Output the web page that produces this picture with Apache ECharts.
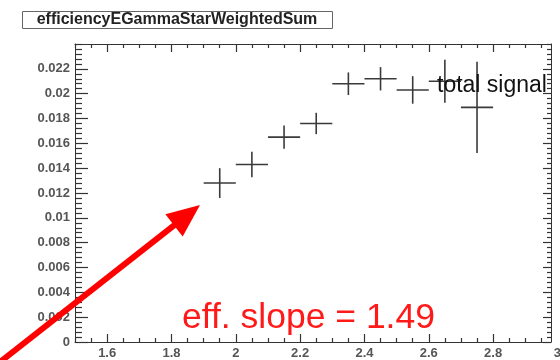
<!DOCTYPE html>
<html>
<head>
<meta charset="utf-8">
<script src="https://cdn.jsdelivr.net/npm/echarts@6/dist/echarts.min.js"></script>
<style>
  html, body { margin: 0; padding: 0; background: #fff; }
  #chart { width: 560px; height: 360px; }
</style>
</head>
<body>
<div id="chart"></div>
<script>
// Efficiency per bin (bin centres, values, symmetric errors)
const binCentres = [1.95, 2.05, 2.15, 2.25, 2.35, 2.45, 2.55, 2.65, 2.75];
const efficiency = [0.0128, 0.0143, 0.0165, 0.0176, 0.0208, 0.0212, 0.0203, 0.0210, 0.0189];
const effError   = [0.0012, 0.00103, 0.00094, 0.00086, 0.00091, 0.00094, 0.00111, 0.00174, 0.00368];
const binHalfWidth = 0.05;

// Axis ticks and labels
const xTickLabels = [1.6, 1.8, 2, 2.2, 2.4, 2.6, 2.8];
const yTickLabels = [0, 0.002, 0.004, 0.006, 0.008, 0.01, 0.012, 0.014, 0.016, 0.018, 0.02, 0.022];
const xRange = [1.5, 2.98];
const yRange = [0, 0.024];
const xEdgeLabel = 3;

const histTitle = 'efficiencyEGammaStarWeightedSum';
const legendText = 'total signal';
const noteText = 'eff. slope = 1.49';

function fmt(v) { return String(+(+v).toFixed(5)); }
function minorValues(lo, hi, step, majors) {
  const out = [];
  const n = Math.round((hi - lo) / step);
  for (let i = 0; i <= n; i++) {
    const v = +(lo + i * step).toFixed(6);
    if (v > hi + 1e-9) break;
    if (!majors.some(m => Math.abs(m - v) < 1e-9)) out.push(v);
  }
  return out;
}
const xMinor = minorValues(1.5, 2.98, 0.05, xTickLabels);
const yMinor = minorValues(0, 0.024, 0.0004, yTickLabels);

const seriesData = binCentres.map((x, i) => [x, efficiency[i], effError[i], binHalfWidth]);

const axisColor = '#333';
const labelStyle = { color: '#555', fontSize: 13, fontWeight: 'bold', fontFamily: 'Liberation Sans, Arial, sans-serif' };

function xAx(position, tickLen, ticks, withLabels, withLine) {
  return {
    type: 'value', position: position, min: xRange[0], max: xRange[1],
    axisLine: { show: withLine, onZero: false, lineStyle: { color: axisColor, width: 1 } },
    axisTick: { show: true, inside: true, length: tickLen, customValues: ticks, lineStyle: { color: axisColor, width: 1.2 } },
    axisLabel: withLabels ? Object.assign({ show: true, margin: 5, customValues: ticks, formatter: fmt }, labelStyle) : { show: false },
    splitLine: { show: false }
  };
}
function yAx(position, tickLen, ticks, withLabels, withLine) {
  return {
    type: 'value', position: position, min: yRange[0], max: yRange[1],
    axisLine: { show: withLine, onZero: false, lineStyle: { color: axisColor, width: 1 } },
    axisTick: { show: true, inside: true, length: tickLen, customValues: ticks, lineStyle: { color: axisColor, width: 1.2 } },
    axisLabel: withLabels ? Object.assign({ show: true, margin: 5, customValues: ticks, formatter: fmt }, labelStyle) : { show: false },
    splitLine: { show: false }
  };
}

const chart = echarts.init(document.getElementById('chart'), null, { renderer: 'canvas' });

const option = {
  animation: false,
  backgroundColor: '#fff',
  grid: { left: 75, top: 44, width: 476, height: 299, containLabel: false },
  xAxis: [
    xAx('bottom', 8, xTickLabels, true, true),
    xAx('bottom', 4, xMinor, false, false),
    xAx('top', 8, xTickLabels, false, true),
    xAx('top', 4, xMinor, false, false)
  ],
  yAxis: [
    yAx('left', 13, yTickLabels, true, true),
    yAx('left', 7, yMinor, false, false),
    yAx('right', 8, yTickLabels, false, true),
    yAx('right', 4, yMinor, false, false)
  ],
  series: [{
    type: 'custom',
    xAxisIndex: 0, yAxisIndex: 0,
    clip: false,
    data: seriesData,
    renderItem: function (params, api) {
      const x = api.value(0), y = api.value(1), e = api.value(2), hw = api.value(3);
      const pl = api.coord([x - hw, y]), pr = api.coord([x + hw, y]);
      const pt = api.coord([x, y + e]), pb = api.coord([x, y - e]);
      const st = { stroke: '#3a3a3a', lineWidth: 1.6 };
      return {
        type: 'group',
        children: [
          { type: 'line', shape: { x1: pl[0], y1: pl[1], x2: pr[0], y2: pr[1] }, style: st },
          { type: 'line', shape: { x1: pt[0], y1: pt[1], x2: pb[0], y2: pb[1] }, style: st }
        ]
      };
    }
  }]
};
chart.setOption(option);

// Extra label at the right end of the x axis, plus title box, legend text and annotation
const edgeX = chart.convertToPixel({ xAxisIndex: 0 }, xEdgeLabel);
const axisBottom = chart.convertToPixel({ yAxisIndex: 0 }, yRange[0]);

// Arrow pointing at the first bin
const tail = [0, 362], tip = [200, 205];
const dx = tip[0] - tail[0], dy = tip[1] - tail[1];
const len = Math.hypot(dx, dy);
const ux = dx / len, uy = dy / len, nx = -uy, ny = ux;
const headLen = 33, headHalf = 14;
const base = [tip[0] - headLen * ux, tip[1] - headLen * uy];

chart.setOption({
  graphic: [
    {
      type: 'text', x: edgeX, y: axisBottom + 5,
      style: Object.assign({ text: String(xEdgeLabel), textAlign: 'center', textVerticalAlign: 'top',
        fill: labelStyle.color, font: 'bold 13px "Liberation Sans", Arial, sans-serif' })
    },
    {
      type: 'rect', shape: { x: 22.5, y: 11.5, width: 310, height: 17 },
      style: { fill: '#fff', stroke: '#666', lineWidth: 1 }
    },
    {
      type: 'text', x: 177, y: 20,
      style: { text: histTitle, textAlign: 'center', textVerticalAlign: 'middle',
        fill: '#222', font: 'bold 16px "Liberation Sans", Arial, sans-serif' }
    },
    {
      type: 'text', x: 437, y: 86, z: 10,
      style: { text: legendText, textAlign: 'left', textVerticalAlign: 'middle',
        fill: '#111', font: '23px "Liberation Sans", Arial, sans-serif' }
    },
    {
      type: 'text', x: 182, y: 318,
      style: { text: noteText, textAlign: 'left', textVerticalAlign: 'middle',
        fill: '#ff1a1a', font: '35.5px "Liberation Sans", Arial, sans-serif' }
    },
    {
      type: 'line', z: 20,
      shape: { x1: tail[0], y1: tail[1], x2: base[0] + 2 * ux, y2: base[1] + 2 * uy },
      style: { stroke: '#ff0000', lineWidth: 6 }
    },
    {
      type: 'polygon', z: 20,
      shape: { points: [tip, [base[0] + headHalf * nx, base[1] + headHalf * ny], [base[0] - headHalf * nx, base[1] - headHalf * ny]] },
      style: { fill: '#ff0000' }
    }
  ]
});
</script>
</body>
</html>
